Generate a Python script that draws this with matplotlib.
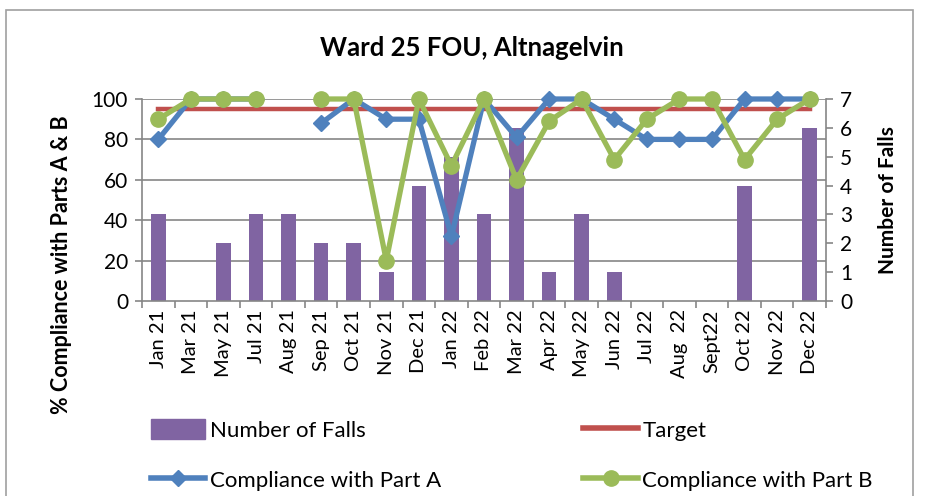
import numpy as np
import matplotlib.pyplot as plt
from matplotlib.lines import Line2D
from matplotlib.patches import Patch, Rectangle

months = ['Jan 21', 'Mar 21', 'May 21', 'Jul 21', 'Aug 21', 'Sep 21', 'Oct 21',
          'Nov 21', 'Dec 21', 'Jan 22', 'Feb 22', 'Mar 22', 'Apr 22', 'May 22',
          'Jun 22', 'Jul 22', 'Aug  22', 'Sept22', 'Oct 22', 'Nov 22', 'Dec 22']
falls = [3, 0, 2, 3, 3, 2, 2, 1, 4, 5, 3, 6, 1, 3, 1, 0, 0, 0, 4, 0, 6]
target = [95] * len(months)
part_a = [80, 100, 100, 100, np.nan, 88, 100, 90, 90, 32, 100, 81, 100, 100,
          90, 80, 80, 80, 100, 100, 100]
part_b = [90, 100, 100, 100, np.nan, 100, 100, 20, 100, 67, 100, 60, 89, 100,
          70, 90, 100, 100, 70, 90, 100]

plt.rcParams['font.family'] = ['Lato', 'DejaVu Sans']

purple = '#8064A2'
red = '#C0504D'
blue = '#4F81BD'
green = '#9BBB59'
grey = '#868686'

fig = plt.figure(figsize=(9.26, 4.96), dpi=100)
fig.patches.append(Rectangle((6 / 926, -0.1), 907 / 926, 1.1 - 10 / 496,
                             transform=fig.transFigure, fill=False,
                             edgecolor='#a0a0a0', linewidth=1.2))

ax = fig.add_axes([142 / 926, 1 - 301 / 496, 684 / 926, 202 / 496])
ax2 = ax.twinx()
x = np.arange(len(months))

ax2.bar(x, falls, width=0.45, color=purple)
ax2.set_ylim(0, 7)
ax2.set_yticks(range(0, 8))

ax.plot(x, target, color=red, linewidth=3.2)
ax.plot(x, part_a, color=blue, linewidth=3.8, marker='D', markersize=8)
ax.plot(x, part_b, color=green, linewidth=3.8, marker='o', markersize=11)
ax.set_ylim(0, 100)
ax.set_yticks(range(0, 101, 20))
ax.set_xlim(-0.5, len(months) - 0.5)
ax.set_zorder(ax2.get_zorder() + 1)
ax.patch.set_visible(False)
for ln in ax.lines:
    ln.set_clip_on(False)

# gridlines drawn on the bar axis so they sit behind bars
for v in range(20, 101, 20):
    ax2.axhline(v * 7 / 100, color=grey, linewidth=1.2, zorder=0)

ax.set_xticks(x)
ax.set_xticklabels(months, rotation=90, fontsize=14.5)
ax.set_xticks(np.arange(-0.5, len(months)), minor=True)
ax.tick_params(axis='x', which='major', length=0, pad=6)
ax.tick_params(axis='x', which='minor', length=5, color=grey, width=1.2)
ax.tick_params(axis='y', length=5, color=grey, width=1.2, labelsize=15, pad=5)
ax2.tick_params(axis='y', length=5, color=grey, width=1.2, labelsize=15, pad=5)

for s in ['top', 'right', 'left', 'bottom']:
    ax.spines[s].set_visible(False)
ax2.spines['top'].set_visible(False)
for s in ['left', 'right', 'bottom']:
    ax2.spines[s].set_color(grey)
    ax2.spines[s].set_linewidth(1.2)

fig.text(472 / 926, 1 - 48 / 496, 'Ward 25 FOU, Altnagelvin', ha='center',
         va='center', fontsize=18.5, fontweight='bold')
fig.text(62 / 926, 1 - 265 / 496, '% Compliance with Parts A & B', rotation=90,
         ha='center', va='center', fontsize=15.5, fontweight='bold')
fig.text(888 / 926, 1 - 200 / 496, 'Number of Falls', rotation=90,
         ha='center', va='center', fontsize=15, fontweight='bold')

handles = [Patch(color=purple),
           Line2D([], [], color=blue, linewidth=4, marker='D', markersize=8),
           Line2D([], [], color=red, linewidth=4),
           Line2D([], [], color=green, linewidth=4, marker='o', markersize=11)]
labels = ['Number of Falls', 'Compliance with Part A', 'Target',
          'Compliance with Part B']
fig.legend(handles, labels, ncol=2, loc='upper left',
           bbox_to_anchor=(151 / 926, 1 - 419 / 496), frameon=False,
           borderpad=0, borderaxespad=0,
           fontsize=16, handlelength=2.45, handletextpad=0.2,
           columnspacing=6.4, labelspacing=1.3, handleheight=1.0)

fig.savefig('out.png', dpi=100)
